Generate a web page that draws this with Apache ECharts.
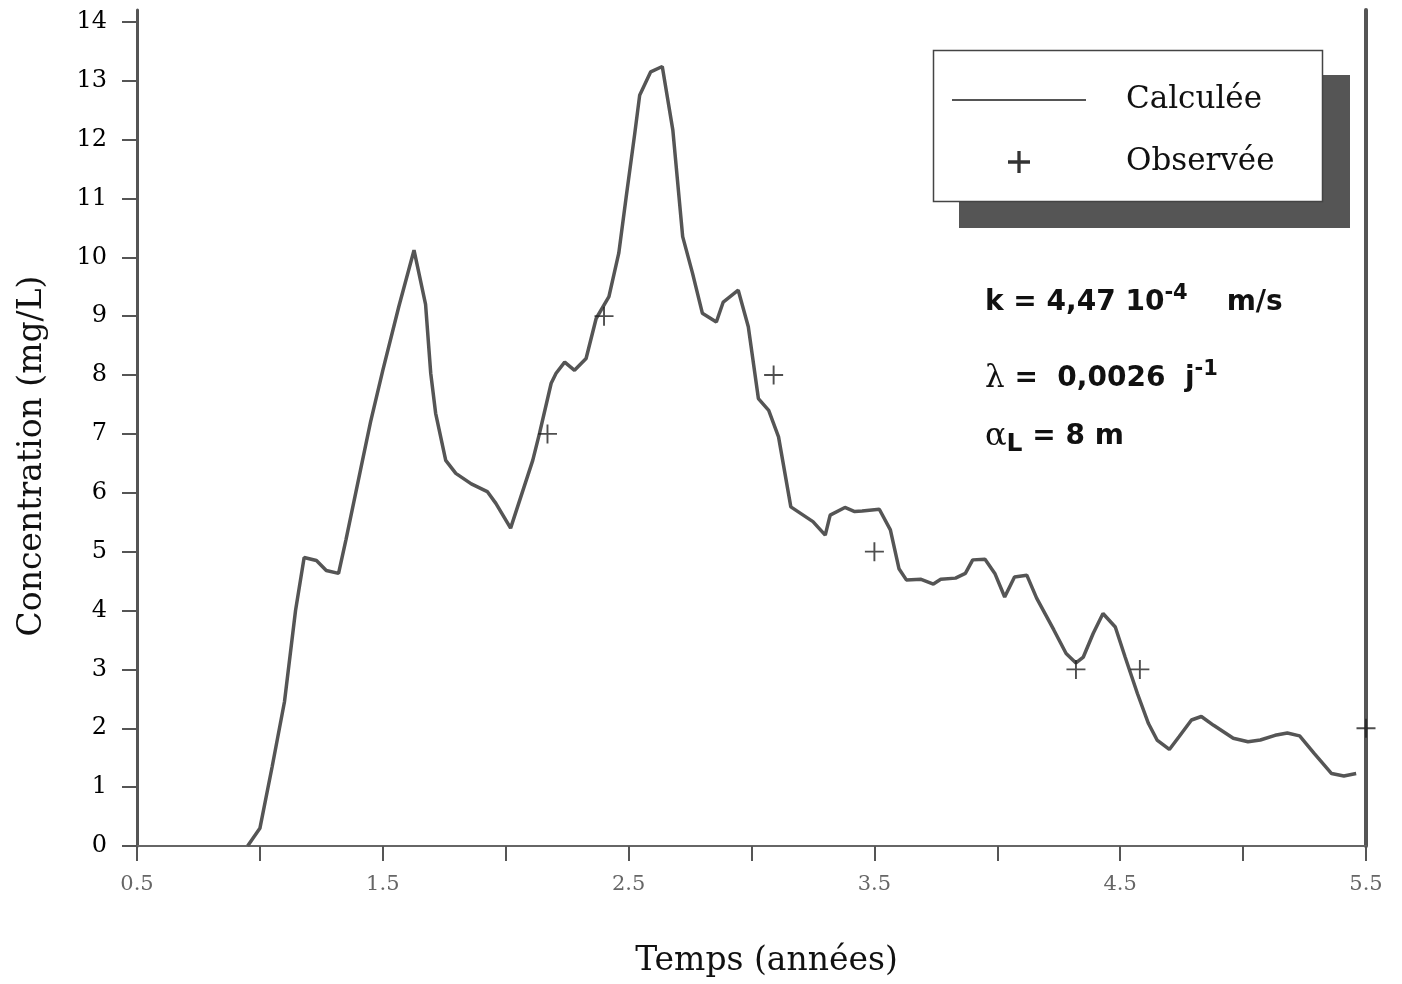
<!DOCTYPE html>
<html><head><meta charset="utf-8">
<script src="https://cdn.jsdelivr.net/npm/echarts@6/dist/echarts.min.js"></script>
<style>html,body{margin:0;padding:0;background:#fff}#c{width:1402px;height:984px}</style>
</head><body><div id="c"></div>
<script>
// Calculated curve (time in years, concentration mg/L)
const timeCalc = [0.95,1.00,1.05,1.10,1.145,1.18,1.23,1.27,1.32,1.35,1.41,1.45,1.50,1.565,1.627,1.674,1.695,1.715,1.756,1.797,1.86,1.925,1.96,2.02,2.11,2.137,2.185,2.205,2.24,2.28,2.327,2.368,2.42,2.46,2.49,2.525,2.545,2.59,2.637,2.68,2.72,2.76,2.80,2.857,2.885,2.946,2.987,3.028,3.07,3.11,3.16,3.25,3.30,3.32,3.38,3.42,3.45,3.52,3.565,3.60,3.63,3.69,3.74,3.77,3.83,3.87,3.90,3.95,3.99,4.03,4.07,4.12,4.16,4.23,4.28,4.32,4.35,4.39,4.43,4.48,4.52,4.57,4.615,4.65,4.70,4.74,4.79,4.83,4.88,4.96,5.02,5.07,5.13,5.18,5.23,5.29,5.36,5.41,5.46];
const concCalc = [0,0.3,1.35,2.45,4.0,4.9,4.85,4.68,4.63,5.2,6.4,7.2,8.08,9.16,10.12,9.2,8.03,7.35,6.55,6.33,6.15,6.02,5.82,5.40,6.55,7.0,7.86,8.03,8.22,8.08,8.28,8.96,9.33,10.07,11.02,12.1,12.75,13.15,13.24,12.16,10.35,9.73,9.05,8.9,9.24,9.44,8.82,7.60,7.40,6.95,5.76,5.51,5.28,5.62,5.75,5.68,5.69,5.72,5.37,4.71,4.52,4.53,4.45,4.53,4.55,4.63,4.86,4.87,4.63,4.23,4.57,4.60,4.21,3.67,3.27,3.11,3.21,3.61,3.95,3.72,3.21,2.59,2.08,1.80,1.64,1.86,2.14,2.20,2.05,1.83,1.77,1.80,1.88,1.92,1.87,1.57,1.23,1.19,1.23];
// Observed points
const timeObs = [2.17,2.40,3.09,3.50,4.32,4.58,5.5];
const concObs = [7,9,8,5,3,3,2];
// Tick labels
const xLabelValues = [0.5,1.5,2.5,3.5,4.5,5.5];
const yLabelValues = [0,1,2,3,4,5,6,7,8,9,10,11,12,13,14];

const calcData = timeCalc.map((t,i)=>[t,concCalc[i]]);
const obsData = timeObs.map((t,i)=>[t,concObs[i]]);
const plus = 'path://M9,0h2v20h-2z M0,9h20v2h-20z';
const plusBold = 'path://M8.5,0h3v20h-3z M0,8.5h20v3h-20z';
const serif = '"DejaVu Serif", "Liberation Serif", serif';
const sans = '"DejaVu Sans", "Liberation Sans", sans-serif';

const chart = echarts.init(document.getElementById('c'), null, {renderer:'canvas'});
chart.setOption({
  animation:false,
  backgroundColor:'#fff',
  grid:{left:137,right:36,top:10,bottom:138},
  legend:{
    left:952, top:83, orient:'vertical',
    padding:0, itemWidth:134, itemHeight:22, itemGap:28,
    textStyle:{fontFamily:serif, fontSize:31, color:'#111', lineHeight:34, padding:[0,0,0,35]},
    data:[{name:'Calculée', icon:'path://M0,0h100v1.6h-100z', itemStyle:{color:'#555'}},
          {name:'Observée', icon:plusBold, itemStyle:{color:'#000'}}]
  },
  xAxis:[{
    type:'value', min:0.5, max:5.5, interval:0.5,
    name:'Temps (années)', nameLocation:'middle', nameGap:99,
    nameTextStyle:{fontFamily:serif, fontSize:33, color:'#111', padding:[0,0,0,30]},
    axisLine:{lineStyle:{color:'#555', width:2}},
    axisTick:{length:15, lineStyle:{color:'#555', width:2}},
    axisLabel:{customValues:xLabelValues, margin:28, fontFamily:serif, fontSize:21, color:'#666'},
    splitLine:{show:false}
  },{
    type:'value', position:'top', min:0.5, max:5.5,
    axisLine:{show:true, lineStyle:{color:'#666', width:2}},
    axisTick:{show:false}, axisLabel:{show:false}, splitLine:{show:false}
  }],
  yAxis:[{
    type:'value', min:0, max:14.2, interval:1,
    name:'Concentration (mg/L)', nameLocation:'middle', nameGap:88,
    nameTextStyle:{fontFamily:serif, fontSize:33, color:'#111', padding:[0,56,0,0]},
    axisLine:{show:true, lineStyle:{color:'#555', width:3}},
    axisTick:{show:true, customValues:yLabelValues, length:15, lineStyle:{color:'#555', width:2}},
    axisLabel:{customValues:yLabelValues, margin:30, fontFamily:serif, fontSize:24, color:'#000'},
    splitLine:{show:false}
  },{
    type:'value', position:'right', min:0, max:14.2,
    axisLine:{show:true, lineStyle:{color:'#555', width:4}},
    axisTick:{show:false}, axisLabel:{show:false}, splitLine:{show:false}
  }],
  series:[{
    name:'Calculée', type:'line', data:calcData, showSymbol:false, symbol:'none',
    lineStyle:{color:'#555', width:3.5}, itemStyle:{color:'#555'}, z:3
  },{
    name:'Observée', type:'scatter', data:obsData, symbol:plus, symbolSize:19,
    itemStyle:{color:'#222'}, z:4
  }],
  graphic:[{
    type:'rect', z:1, shape:{x:959, y:75, width:391, height:153},
    style:{fill:'#555'}
  },{
    type:'rect', z:2, shape:{x:933.5, y:50.5, width:389, height:151},
    style:{fill:'#fff', stroke:'#444', lineWidth:1.5}
  },{
    type:'text', left:985, top:283,
    style:{
      text:'{t|k = 4,47 10}{s|-4}{t|    m/s}',
      rich:{t:{fontFamily:sans, fontWeight:'bold', fontSize:28, fill:'#111'},
            s:{fontFamily:sans, fontWeight:'bold', fontSize:21, fill:'#111', padding:[0,0,18,0]}}
    }
  },{
    type:'text', left:985, top:359,
    style:{
      text:'{g|λ}{t| =  0,0026  j}{s|-1}',
      rich:{g:{fontFamily:serif, fontSize:31, fill:'#111'},
            t:{fontFamily:sans, fontWeight:'bold', fontSize:28, fill:'#111'},
            s:{fontFamily:sans, fontWeight:'bold', fontSize:21, fill:'#111', padding:[0,0,18,0]}}
    }
  },{
    type:'text', left:985, top:421,
    style:{
      text:'{g|α}{b|L}{t| = 8 m}',
      rich:{g:{fontFamily:serif, fontSize:32, fill:'#111'},
            b:{fontFamily:sans, fontWeight:'bold', fontSize:25, fill:'#111', padding:[14,0,0,0]},
            t:{fontFamily:sans, fontWeight:'bold', fontSize:28, fill:'#111'}}
    }
  }]
});
</script></body></html>
